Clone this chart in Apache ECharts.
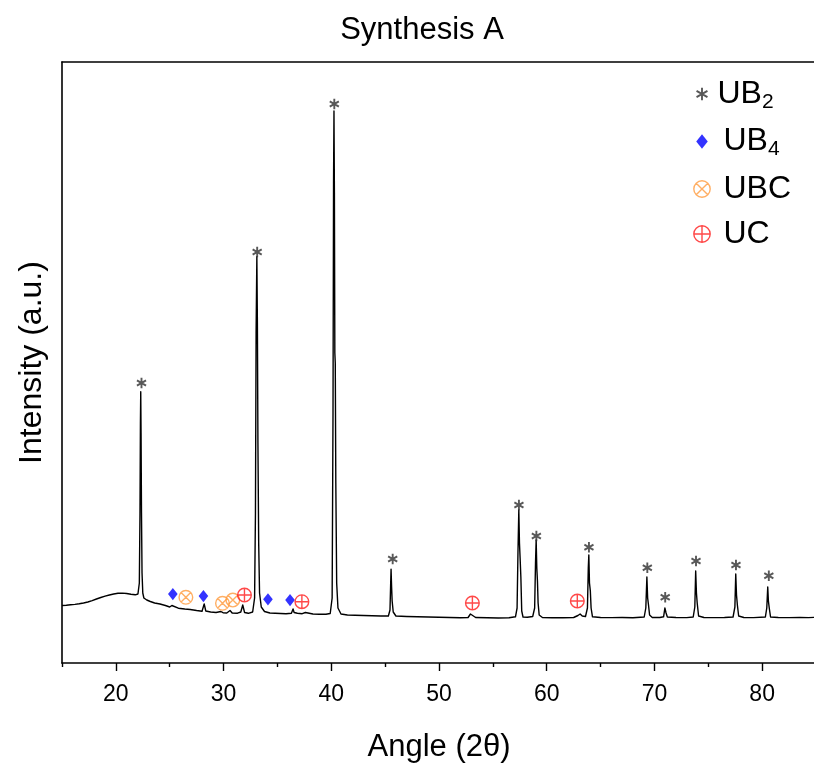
<!DOCTYPE html>
<html>
<head>
<meta charset="utf-8">
<title>Synthesis A</title>
<script src="https://cdn.jsdelivr.net/npm/echarts@6/dist/echarts.min.js"></script>
<style>
  html, body { margin: 0; padding: 0; background: #fff; }
  #chart { width: 814px; height: 765px; }
</style>
</head>
<body>
<div id="chart"></div>
<script>
// XRD pattern: diffraction angle (2θ, degrees) and intensity (arbitrary units)
const twoTheta = [
  15.0, 15.4, 15.8, 16.2, 16.6, 17.0, 17.4, 17.8, 18.2, 18.6, 19.0, 19.4, 19.8, 20.2, 20.6, 21.0, 21.4, 21.8,
  22.05, 22.18, 22.24, 22.28, 22.31, 22.34, 22.38, 22.43, 22.5, 22.6, 22.87, 23.2, 23.6, 24.1, 24.6, 25.0,
  25.2, 25.35, 25.8, 26.4, 26.9, 27.5, 28.0, 28.2, 28.35, 28.8, 29.3, 29.75, 29.95, 30.3, 30.6, 30.8, 31.3,
  31.6, 31.78, 31.95, 32.3, 32.7, 32.88, 32.96, 33.02, 33.09, 33.14, 33.19, 33.26, 33.34, 33.5, 33.8, 34.3,
  34.8, 35.3, 35.8, 36.3, 36.45, 36.55, 36.7, 36.85, 37.3, 37.6, 37.75, 38.3, 38.9, 39.5, 39.9, 40.08, 40.16,
  40.21, 40.25, 40.29, 40.33, 40.37, 40.42, 40.5, 40.62, 40.9, 41.5, 42.2, 43.0, 43.8, 44.6, 45.3, 45.45,
  45.51, 45.55, 45.6, 45.65, 45.75, 46.0, 47.0, 48.0, 49.0, 50.0, 51.0, 52.0, 52.7, 52.92, 53.1, 53.4, 54.5,
  55.5, 56.5, 57.1, 57.25, 57.33, 57.41, 57.47, 57.53, 57.6, 57.68, 57.8, 58.2, 58.7, 58.88, 58.96, 59.02,
  59.08, 59.14, 59.2, 59.3, 59.6, 60.5, 61.5, 62.5, 62.9, 63.1, 63.3, 63.6, 63.78, 63.86, 63.91, 63.97, 64.05,
  64.12, 64.25, 65.0, 66.0, 67.0, 68.0, 69.05, 69.2, 69.3, 69.37, 69.45, 69.55, 69.8, 70.5, 70.85, 70.97,
  71.08, 71.2, 72.0, 73.0, 73.6, 73.75, 73.83, 73.9, 73.97, 74.1, 74.6, 75.5, 76.5, 77.3, 77.47, 77.55, 77.62,
  77.7, 77.82, 78.3, 79.2, 80.3, 80.43, 80.52, 80.58, 80.66, 80.78, 81.5, 82.5, 83.5, 84.3, 85.0
];
const intensity = [
  575, 578, 582, 586, 592, 600, 610, 624, 640, 655, 668, 680, 690, 697, 699, 695, 688, 682,
  690, 800, 1500, 2400, 2713, 2300, 1500, 900, 700, 650, 630, 615, 600, 590, 575, 560,
  575, 556, 548, 540, 535, 525, 518, 590, 520, 510, 505, 515, 503, 500, 525, 500, 498,
  510, 580, 505, 497, 510, 650, 1500, 3300, 4063, 3400, 2200, 1200, 700, 560, 515, 500,
  497, 495, 493, 497, 540, 505, 520, 497, 493, 505, 492, 490, 488, 487, 495, 650, 2500,
  4800, 5520, 4700, 3100, 3000, 1800, 800, 550, 490, 480, 478, 475, 473, 470, 470, 530,
  780, 937, 760, 620, 510, 470, 465, 462, 460, 458, 455, 453, 455, 490, 470, 455, 452,
  450, 452, 462, 550, 1100, 1530, 1200, 1050, 860, 520, 460, 458, 465, 550, 1000, 1230,
  950, 820, 600, 480, 455, 453, 452, 455, 475, 490, 470, 465, 550, 950, 1080, 800, 720,
  550, 462, 455, 454, 455, 453, 460, 550, 860, 650, 580, 480, 455, 455, 462, 550,
  500, 460, 455, 454, 460, 560, 920, 700, 600, 470, 455, 454, 455, 460, 560, 890, 680,
  580, 470, 455, 454, 460, 550, 760, 620, 550, 460, 455, 454, 455, 454, 457
];

// Phase markers: angle and the height at which each marker is placed
const ub2Angle  = [22.38, 33.12, 40.28, 45.7, 57.42, 59.04, 63.92, 69.34, 71.0, 73.86, 77.57, 80.62];
const ub2Height = [2800, 4110, 5590, 1040, 1580, 1270, 1157, 953, 657, 1020, 980, 873];
const ub4Angle  = [25.29, 28.13, 34.12, 36.17];
const ub4Height = [690, 670, 637, 630];
const ubcAngle  = [26.5, 29.9, 30.86];
const ubcHeight = [657, 597, 630];
const ucAngle   = [31.94, 37.27, 53.1, 62.84];
const ucHeight  = [680, 613, 600, 620];

// Axis ticks
const majorTicks = [20, 30, 40, 50, 60, 70, 80];
const minorTicks = [15, 25, 35, 45, 55, 65, 75, 85];

const zip = (a, b) => a.map((v, i) => [v, b[i]]);

// Marker glyphs, each drawn inside the same -10..10 frame so legend and plot keep proportions
const FRAME = 'M-10,-10M10,10';
const starPath = 'path://' + FRAME + 'M0,-6L0,6M-5.2,-3L5.2,3M-5.2,3L5.2,-3';
const diamondPath = 'path://' + FRAME + 'M0,-7L5.5,0L0,7L-5.5,0Z';
const circleX = 'path://' + FRAME +
  'M7.8,0A7.8,7.8,0,1,1,-7.8,0A7.8,7.8,0,1,1,7.8,0Z' +
  'M-5.5,-5.5L5.5,5.5M-5.5,5.5L5.5,-5.5';
const circlePlus = 'path://' + FRAME +
  'M7.8,0A7.8,7.8,0,1,1,-7.8,0A7.8,7.8,0,1,1,7.8,0Z' +
  'M-7.8,0L7.8,0M0,-7.8L0,7.8';

const FONT = 'Arial, "Liberation Sans", sans-serif';
const starStyle = { color: 'none', borderColor: '#2e2e2e', borderWidth: 1.9 };
const ub4Style  = { color: '#0000ff', borderColor: '#0000ff', borderWidth: 0 };
const ubcStyle  = { color: 'none', borderColor: '#ff9a3c', borderWidth: 1.4 };
const ucStyle   = { color: 'none', borderColor: '#ff1a1a', borderWidth: 1.4 };
const MARK_SIZE = 17.5;

// Legend labels with chemical subscripts
const legendLabels = {
  UB2: 'UB{sub|2}',
  UB4: '{gap|}UB{sub|4}',
  UBC: '{gap|}UBC',
  UC: '{gap|}UC'
};

const chart = echarts.init(document.getElementById('chart'), null, { renderer: 'canvas' });

chart.setOption({
  animation: false,
  backgroundColor: '#ffffff',
  title: {
    text: 'Synthesis A',
    left: 417,
    top: 10,
    textAlign: 'center',
    textStyle: { fontFamily: FONT, fontSize: 31, fontWeight: 'normal', color: '#000' }
  },
  grid: { left: 62, right: -2, top: 62, bottom: 102, show: false, outerBoundsMode: 'none' },
  legend: {
    orient: 'vertical',
    left: 684,
    top: 73,
    itemWidth: 21,
    itemHeight: 21,
    itemGap: 13,
    selectedMode: false,
    textStyle: {
      fontFamily: FONT, fontSize: 32, color: '#000',
      rich: {
        gap: { width: 6 },
        sub: { fontFamily: FONT, fontSize: 21, color: '#000', padding: [16, 0, 0, 0] }
      }
    },
    formatter: name => legendLabels[name] || name,
    data: [
      { name: 'UB2', icon: starPath, itemStyle: starStyle },
      { name: 'UB4', icon: diamondPath, itemStyle: ub4Style },
      { name: 'UBC', icon: circleX, itemStyle: ubcStyle },
      { name: 'UC', icon: circlePlus, itemStyle: ucStyle }
    ]
  },
  xAxis: [
    {
      type: 'value', min: 15, max: 85, position: 'bottom',
      name: 'Angle (2θ)', nameLocation: 'middle', nameGap: 69,
      nameTextStyle: { fontFamily: FONT, fontSize: 31, color: '#000' },
      axisLine: { show: true, onZero: false, lineStyle: { color: '#000', width: 1.6 } },
      axisTick: { show: true, inside: false, length: 8, customValues: majorTicks,
                  lineStyle: { color: '#000', width: 1.4 } },
      axisLabel: { show: true, margin: 20, customValues: majorTicks,
                  fontFamily: FONT, fontSize: 23, color: '#000' },
      splitLine: { show: false }
    },
    {
      type: 'value', min: 15, max: 85, position: 'bottom',
      axisLine: { show: false, onZero: false },
      axisTick: { show: true, inside: false, length: 4, customValues: minorTicks,
                  lineStyle: { color: '#000', width: 1.4 } },
      axisLabel: { show: false },
      splitLine: { show: false }
    },
    {
      type: 'value', min: 15, max: 85, position: 'top',
      axisLine: { show: true, onZero: false, lineStyle: { color: '#000', width: 1.6 } },
      axisTick: { show: false },
      axisLabel: { show: false },
      splitLine: { show: false }
    }
  ],
  yAxis: {
    type: 'value', min: 0, max: 6010,
    name: 'Intensity (a.u.)', nameLocation: 'middle', nameGap: 14,
    nameTextStyle: { fontFamily: FONT, fontSize: 32, color: '#000' },
    axisLine: { show: true, onZero: false, lineStyle: { color: '#000', width: 1.6 } },
    axisTick: { show: false },
    axisLabel: { show: false },
    splitLine: { show: false }
  },
  series: [
    {
      name: 'pattern',
      type: 'line',
      xAxisIndex: 0,
      data: zip(twoTheta, intensity),
      showSymbol: false,
      symbol: 'none',
      lineStyle: { color: '#000', width: 1.4, join: 'round' },
      z: 2,
      silent: true
    },
    {
      name: 'UB2', type: 'scatter', xAxisIndex: 0, data: zip(ub2Angle, ub2Height),
      symbol: starPath, symbolSize: MARK_SIZE, itemStyle: starStyle, z: 3
    },
    {
      name: 'UB4', type: 'scatter', xAxisIndex: 0, data: zip(ub4Angle, ub4Height),
      symbol: diamondPath, symbolSize: MARK_SIZE, itemStyle: ub4Style, z: 3
    },
    {
      name: 'UBC', type: 'scatter', xAxisIndex: 0, data: zip(ubcAngle, ubcHeight),
      symbol: circleX, symbolSize: MARK_SIZE, itemStyle: ubcStyle, z: 3
    },
    {
      name: 'UC', type: 'scatter', xAxisIndex: 0, data: zip(ucAngle, ucHeight),
      symbol: circlePlus, symbolSize: MARK_SIZE, itemStyle: ucStyle, z: 3
    }
  ]
});
</script>
</body>
</html>
